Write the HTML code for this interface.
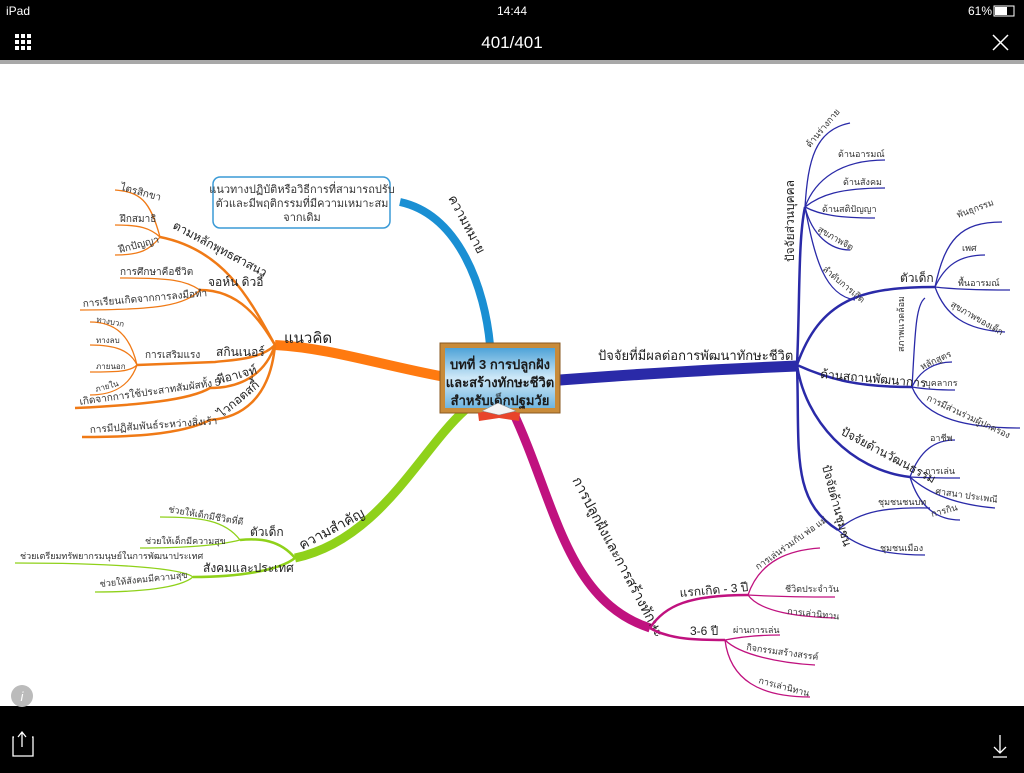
<!DOCTYPE html>
<html><head><meta charset="utf-8"><style>
html,body{margin:0;padding:0;background:#000;}
body{width:1024px;height:768px;overflow:hidden;position:relative;font-family:"Liberation Sans","DejaVu Sans",sans-serif;}
svg text{font-family:"Liberation Sans","DejaVu Sans",sans-serif;}
</style></head><body>
<svg width="1024" height="768" viewBox="0 0 1024 768" xmlns="http://www.w3.org/2000/svg">
<defs>
<linearGradient id="bg" x1="0" y1="0" x2="0" y2="1"><stop offset="0" stop-color="#4ea3d8"/><stop offset="0.5" stop-color="#cfe9f8"/><stop offset="1" stop-color="#6fb5e0"/></linearGradient>
</defs>
<rect x="0" y="0" width="1024" height="60" fill="#000"/>
<rect x="0" y="60" width="1024" height="4" fill="#a8a8a8"/>
<rect x="0" y="64" width="1024" height="642" fill="#fff"/>
<rect x="0" y="706" width="1024" height="62" fill="#000"/>
<text x="6" y="15" fill="#fff" font-size="12">iPad</text>
<text x="512" y="15" fill="#fff" font-size="12" text-anchor="middle">14:44</text>
<text x="968" y="15" fill="#fff" font-size="12">61%</text>
<rect x="994" y="6" width="20" height="10" fill="none" stroke="#fff"/><rect x="995" y="7" width="12" height="8" fill="#fff"/>
<g fill="#fff"><rect x="15" y="34" width="4" height="4"/><rect x="21" y="34" width="4" height="4"/><rect x="27" y="34" width="4" height="4"/><rect x="15" y="40" width="4" height="4"/><rect x="21" y="40" width="4" height="4"/><rect x="27" y="40" width="4" height="4"/><rect x="15" y="46" width="4" height="4"/><rect x="21" y="46" width="4" height="4"/><rect x="27" y="46" width="4" height="4"/></g>
<text x="512" y="48" fill="#fff" font-size="17" text-anchor="middle">401/401</text>
<path d="M993 35 L1008 50 M1008 35 L993 50" stroke="#fff" stroke-width="1.5"/>
<path d="M14 737 h-1 v19 h20 v-19 h-1 M22 733 v14 M18 737 l4-5 4 5" stroke="#fff" fill="none" stroke-width="1.3"/>
<path d="M1000 735 v18 M994 747 l6 6 6-6 M993 757 h14" stroke="#fff" fill="none" stroke-width="1.3"/>
<circle cx="22" cy="696" r="11" fill="#bbb"/><text x="22" y="701" fill="#fff" font-size="13" font-style="italic" text-anchor="middle">i</text>

<path d="M490 345 C485 290 460 215 400 202" stroke="#1a8fd3" stroke-width="8" fill="none"/>
<path d="M445 377 C380 365 330 348 275 345" stroke="#ff7a10" stroke-width="10" fill="none"/>
<path d="M465 410 C420 450 380 540 295 558" stroke="#8fd11a" stroke-width="9" fill="none"/>
<path d="M560 380 C640 374 720 369 797 366" stroke="#2a2aa8" stroke-width="11" fill="none"/>
<path d="M512 410 C555 500 565 600 650 628" stroke="#c0127f" stroke-width="9" fill="none"/>

<rect x="213" y="177" width="177" height="51" rx="7" fill="#fff" stroke="#3a9ad6" stroke-width="1.5"/>
<text font-size="11" fill="#333" text-anchor="middle"><tspan x="302" y="193">แนวทางปฏิบัติหรือวิธีการที่สามารถปรับ</tspan><tspan x="302" y="207">ตัวและมีพฤติกรรมที่มีความเหมาะสม</tspan><tspan x="302" y="221">จากเดิม</tspan></text>
<text x="448" y="198" font-size="13" fill="#222" transform="rotate(62 448 198)">ความหมาย</text>

<g stroke="#f07a16" stroke-width="2.5" fill="none">
<path d="M275 345 C250 300 225 250 160 237"/>
<path d="M275 345 C260 320 240 290 200 290"/>
<path d="M275 345 C260 360 230 360 215 362 L137 365"/>
<path d="M275 345 C265 375 240 388 210 388 C190 400 140 405 75 408"/>
<path d="M275 345 C270 400 240 418 210 420 C180 435 130 437 82 437"/>
</g>
<g stroke="#f07a16" stroke-width="1.3" fill="none">
<path d="M160 237 C150 200 140 192 115 190"/>
<path d="M160 237 C150 228 140 225 115 225"/>
<path d="M160 237 C150 250 140 255 115 255"/>
<path d="M200 290 C185 280 170 278 120 278"/>
<path d="M200 290 C185 305 160 310 80 310"/>
<path d="M137 365 C130 335 115 322 90 322"/>
<path d="M137 365 C130 350 115 345 90 345"/>
<path d="M137 365 C130 372 115 372 90 372"/>
<path d="M137 365 C130 385 115 395 90 395"/>
</g>
<g font-size="10" fill="#333">
<text x="120" y="190" transform="rotate(15 120 190)">ไตรสิกขา</text>
<text x="120" y="222">ฝึกสมาธิ</text>
<text x="120" y="253" transform="rotate(-15 120 253)">ฝึกปัญญา</text>
<text x="120" y="275">การศึกษาคือชีวิต</text>
<text x="83" y="307" transform="rotate(-5 83 307)">การเรียนเกิดจากการลงมือทำ</text>
<text x="96" y="322" font-size="8" transform="rotate(10 96 322)">ทางบวก</text>
<text x="96" y="343" font-size="8">ทางลบ</text>
<text x="96" y="369" font-size="8">ภายนอก</text>
<text x="96" y="392" font-size="8" transform="rotate(-15 96 392)">ภายใน</text>
<text x="145" y="358">การเสริมแรง</text>
<text x="80" y="405" transform="rotate(-8 80 405)">เกิดจากการใช้ประสาทสัมผัสทั้ง 5</text>
<text x="90" y="433" transform="rotate(-4 90 433)">การมีปฏิสัมพันธ์ระหว่างสิ่งเร้า</text>
</g>
<g font-size="12" fill="#222">
<text x="172" y="228" transform="rotate(28 172 228)">ตามหลักพุทธศาสนา</text>
<text x="208" y="286">จอห์น  ดิวอี้</text>
<text x="216" y="356">สกินเนอร์</text>
<text x="218" y="384" transform="rotate(-15 218 384)">พีอาเจท์</text>
<text x="222" y="418" transform="rotate(-40 222 418)">ไวกอตสกี้</text>
</g>
<text x="284" y="343" font-size="15" fill="#222">แนวคิด</text>

<g stroke="#8fd11a" stroke-width="2.5" fill="none">
<path d="M295 558 C280 540 260 538 240 540"/>
<path d="M295 558 C280 570 240 577 193 577"/>
</g>
<g stroke="#8fd11a" stroke-width="1.3" fill="none">
<path d="M240 540 C225 520 200 517 160 517"/>
<path d="M240 540 C220 545 190 548 140 548"/>
<path d="M193 577 C180 567 100 563 15 563"/>
<path d="M193 577 C180 588 140 592 95 592"/>
</g>
<g font-size="9" fill="#333">
<text x="168" y="512" transform="rotate(10 168 512)">ช่วยให้เด็กมีชีวิตที่ดี</text>
<text x="145" y="544">ช่วยให้เด็กมีความสุข</text>
<text x="20" y="559">ช่วยเตรียมทรัพยากรมนุษย์ในการพัฒนาประเทศ</text>
<text x="100" y="587" transform="rotate(-6 100 587)">ช่วยให้สังคมมีความสุข</text>
</g>
<g font-size="12" fill="#222">
<text x="250" y="536">ตัวเด็ก</text>
<text x="203" y="572">สังคมและประเทศ</text>
</g>
<text x="302" y="550" font-size="14" fill="#222" transform="rotate(-28 302 550)">ความสำคัญ</text>

<text x="598" y="360" font-size="13" fill="#222">ปัจจัยที่มีผลต่อการพัฒนาทักษะชีวิต</text>
<g stroke="#2a2aa8" stroke-width="2.5" fill="none">
<path d="M797 365 C800 300 798 240 805 207"/>
<path d="M797 365 C820 300 860 287 935 287"/>
<path d="M797 365 C830 380 860 387 912 387"/>
<path d="M797 365 C805 420 850 470 910 477"/>
<path d="M797 365 C800 450 790 500 838 530"/>
</g>
<g stroke="#2a2aa8" stroke-width="1.3" fill="none">
<path d="M805 207 C808 160 815 130 850 123"/>
<path d="M805 207 C815 180 840 160 885 160"/>
<path d="M805 207 C820 195 840 188 885 188"/>
<path d="M805 207 C820 215 840 218 875 218"/>
<path d="M805 207 C812 235 830 250 850 250"/>
<path d="M805 207 C815 260 825 295 855 300"/>
<path d="M935 287 C945 240 960 222 1002 222"/>
<path d="M935 287 C945 265 960 255 985 255"/>
<path d="M935 287 C960 290 990 290 1010 290"/>
<path d="M935 287 C945 315 965 330 1005 332"/>
<path d="M912 387 C915 340 915 305 925 298"/>
<path d="M912 387 C920 370 935 362 952 362"/>
<path d="M912 387 C930 390 945 390 955 390"/>
<path d="M912 387 C925 420 970 428 1020 428"/>
<path d="M910 477 C920 450 935 440 955 440"/>
<path d="M910 477 C930 478 945 478 960 478"/>
<path d="M910 477 C930 495 960 505 995 508"/>
<path d="M910 477 C920 510 940 520 960 520"/>
<path d="M838 530 C860 510 890 507 930 508"/>
<path d="M838 530 C860 550 890 555 925 555"/>
</g>
<g font-size="9" fill="#333">
<text x="810" y="148" transform="rotate(-50 810 148)">ด้านร่างกาย</text>
<text x="838" y="157">ด้านอารมณ์</text>
<text x="843" y="185">ด้านสังคม</text>
<text x="822" y="212">ด้านสติปัญญา</text>
<text x="817" y="231" transform="rotate(30 817 231)">สุขภาพจิต</text>
<text x="822" y="270" transform="rotate(40 822 270)">ลำดับการเกิด</text>
<text x="958" y="218" transform="rotate(-20 958 218)">พันธุกรรม</text>
<text x="962" y="251">เพศ</text>
<text x="958" y="286">พื้นอารมณ์</text>
<text x="950" y="306" transform="rotate(30 950 306)">สุขภาพของเด็ก</text>
<text x="904" y="352" transform="rotate(-90 904 352)">สภาพแวดล้อม</text>
<text x="922" y="370" transform="rotate(-25 922 370)">หลักสูตร</text>
<text x="925" y="386">บุคลากร</text>
<text x="926" y="400" transform="rotate(25 926 400)">การมีส่วนร่วมผู้ปกครอง</text>
<text x="930" y="441">อาชีพ</text>
<text x="925" y="474">การเล่น</text>
<text x="935" y="494" transform="rotate(8 935 494)">ศาสนา ประเพณี</text>
<text x="932" y="517" transform="rotate(-15 932 517)">การกิน</text>
<text x="878" y="505">ชุมชนชนบท</text>
<text x="880" y="551">ชุมชนเมือง</text>
</g>
<g font-size="12" fill="#222">
<text x="794" y="262" transform="rotate(-90 794 262)">ปัจจัยส่วนบุคคล</text>
<text x="900" y="282">ตัวเด็ก</text>
<text x="820" y="378" transform="rotate(5 820 378)">ด้านสถานพัฒนาการ</text>
<text x="840" y="434" transform="rotate(28 840 434)">ปัจจัยด้านวัฒนธรรม</text>
<text x="822" y="466" transform="rotate(75 822 466)">ปัจจัยด้านชุมชน</text>
</g>

<text x="572" y="480" font-size="14" fill="#222" transform="rotate(62 572 480)">การปลูกฝังและการสร้างทักษะ</text>
<g stroke="#c0127f" stroke-width="2.5" fill="none">
<path d="M650 628 C665 605 690 595 748 595"/>
<path d="M650 628 C670 640 700 640 725 640"/>
</g>
<g stroke="#c0127f" stroke-width="1.3" fill="none">
<path d="M748 595 C760 560 790 550 820 548"/>
<path d="M748 595 C780 597 810 597 835 597"/>
<path d="M748 595 C760 612 800 617 835 618"/>
<path d="M725 640 C740 637 760 635 780 635"/>
<path d="M725 640 C740 655 780 663 815 665"/>
<path d="M725 640 C730 680 760 697 810 697"/>
</g>
<g font-size="9" fill="#333">
<text x="758" y="570" transform="rotate(-35 758 570)">การเล่นร่วมกับ  พ่อ แม่</text>
<text x="785" y="592">ชีวิตประจำวัน</text>
<text x="787" y="614" transform="rotate(6 787 614)">การเล่านิทาน</text>
<text x="733" y="633">ผ่านการเล่น</text>
<text x="746" y="650" transform="rotate(8 746 650)">กิจกรรมสร้างสรรค์</text>
<text x="758" y="683" transform="rotate(15 758 683)">การเล่านิทาน</text>
</g>
<g font-size="12" fill="#222">
<text x="680" y="597" transform="rotate(-5 680 597)">แรกเกิด - 3 ปี</text>
<text x="690" y="635">3-6 ปี</text>
</g>

<rect x="440" y="343" width="120" height="70" fill="#c88b3a" stroke="#8a5a20"/>
<rect x="445" y="348" width="110" height="60" fill="url(#bg)"/>
<text font-size="13" font-weight="bold" fill="#1a1a1a" text-anchor="middle"><tspan x="500" y="369">บทที่ 3 การปลูกฝัง</tspan><tspan x="500" y="387">และสร้างทักษะชีวิต</tspan><tspan x="500" y="405">สำหรับเด็กปฐมวัย</tspan></text>
<path d="M478 413 L498 408 L520 413 L519 421 L499 418 L479 421 Z" fill="#e8442a"/>
<path d="M482 411 L498 403 L516 411 L499 415 Z" fill="#f4f4f4" stroke="#888" stroke-width="0.5"/>
</svg>
</body></html>
